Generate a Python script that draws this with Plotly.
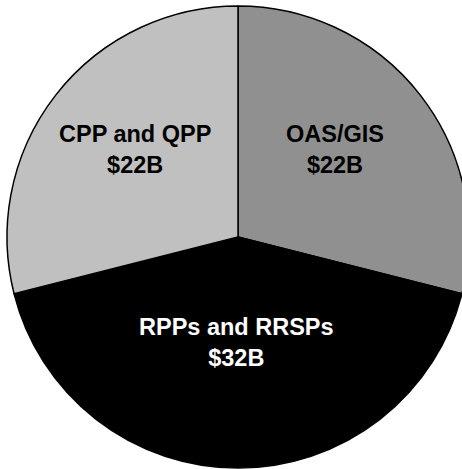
import plotly.graph_objects as go

labels = ["OAS/GIS", "RPPs and RRSPs", "CPP and QPP"]
values = [22, 32, 22]
value_text = ["$22B", "$32B", "$22B"]
colors = ["#909090", "#000000", "#c0c0c0"]
text_colors = ["#000000", "#ffffff", "#000000"]
# label centres (pixels from top-left of the chart)
label_pos = [(334.5, 149.5), (236, 342.5), (135, 149.5)]

W, H = 476, 469
FONT = "Liberation Sans, Arial, sans-serif"

fig = go.Figure(go.Pie(
    labels=labels,
    values=values,
    textinfo="none",
    marker=dict(colors=colors, line=dict(color="#000000", width=1.5)),
    sort=False,
    direction="clockwise",
    rotation=0,
    hoverinfo="skip",
    domain=dict(x=[7 / W, 469 / W], y=[1 / H, 463 / H]),
))

for lab, val, col, (px, py) in zip(labels, value_text, text_colors, label_pos):
    fig.add_annotation(
        x=px / W, y=1 - py / H, xref="paper", yref="paper",
        text=f"<b>{lab}<br>{val}</b>", showarrow=False,
        xanchor="center", yanchor="middle", align="center",
        font=dict(family=FONT, size=23.5, color=col),
    )

fig.update_layout(
    width=W, height=H,
    margin=dict(l=0, r=0, t=0, b=0),
    showlegend=False,
    paper_bgcolor="white",
    plot_bgcolor="white",
    font=dict(family=FONT),
)

fig.write_html("out.html", config={"displayModeBar": False},
               post_script="document.body.style.margin='0';document.body.style.overflow='hidden';")
